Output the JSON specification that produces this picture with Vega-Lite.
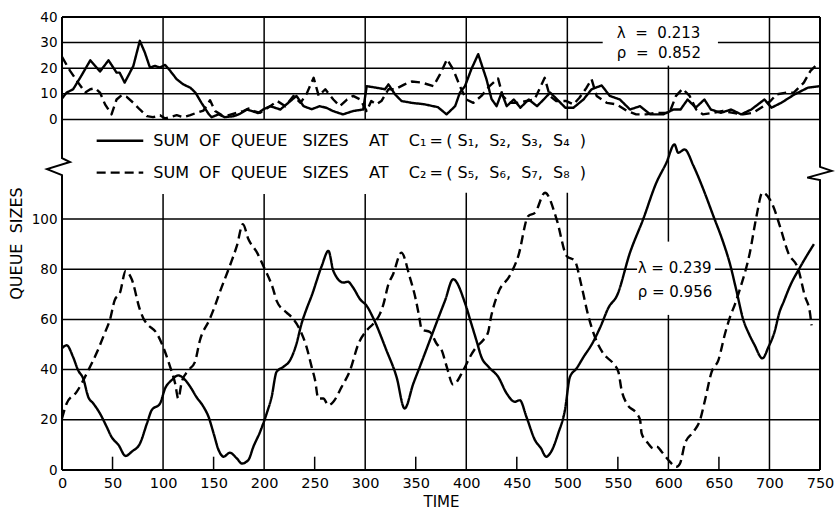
{
  "$schema": "https://vega.github.io/schema/vega-lite/v6.json",
  "width": 758,
  "height": 453,
  "autosize": {"type": "none"},
  "padding": {"left": 62, "top": 17, "right": 17, "bottom": 41},
  "background": "white",
  "config": {"view": {"stroke": null}, "font": "DejaVu Sans"},
  "datasets": {
    "top": [
      {"s":"C1","t":0,"v":8.2},{"s":"C1","t":4.6,"v":10.5},{"s":"C1","t":11,"v":11.8},{"s":"C1","t":18,"v":16.3},{"s":"C1","t":28,"v":23.1},{"s":"C1","t":37.6,"v":18.7},{"s":"C1","t":46,"v":23.1},{"s":"C1","t":54,"v":18.3},{"s":"C1","t":57,"v":18.3},{"s":"C1","t":62,"v":14.4},{"s":"C1","t":70.6,"v":20.9},{"s":"C1","t":77,"v":30.7},{"s":"C1","t":82,"v":26.1},{"s":"C1","t":87,"v":20.3},{"s":"C1","t":92,"v":20.9},{"s":"C1","t":97,"v":20.3},{"s":"C1","t":102,"v":21.3},{"s":"C1","t":107,"v":19},{"s":"C1","t":113.5,"v":15.7},{"s":"C1","t":120,"v":13.7},{"s":"C1","t":127,"v":12.4},{"s":"C1","t":132,"v":10.5},{"s":"C1","t":138,"v":6.5},{"s":"C1","t":145,"v":2.2},{"s":"C1","t":148,"v":0.9},{"s":"C1","t":155,"v":2},{"s":"C1","t":161,"v":0.9},{"s":"C1","t":170,"v":1.3},{"s":"C1","t":176,"v":2.2},{"s":"C1","t":183,"v":3.9},{"s":"C1","t":188,"v":3.3},{"s":"C1","t":194,"v":2.5},{"s":"C1","t":199,"v":3.9},{"s":"C1","t":206,"v":5.2},{"s":"C1","t":216,"v":3.9},{"s":"C1","t":226,"v":7.2},{"s":"C1","t":232,"v":9.2},{"s":"C1","t":239,"v":5.2},{"s":"C1","t":247,"v":4},{"s":"C1","t":255,"v":5.2},{"s":"C1","t":262,"v":4.5},{"s":"C1","t":268,"v":3.3},{"s":"C1","t":278,"v":2},{"s":"C1","t":288,"v":3.3},{"s":"C1","t":298,"v":3.9},{"s":"C1","t":301.5,"v":13},{"s":"C1","t":311,"v":12.4},{"s":"C1","t":319.6,"v":11.8},{"s":"C1","t":323,"v":13.7},{"s":"C1","t":329.5,"v":9.8},{"s":"C1","t":336,"v":7.2},{"s":"C1","t":346,"v":6.5},{"s":"C1","t":359,"v":5.9},{"s":"C1","t":372,"v":4.8},{"s":"C1","t":380.5,"v":2},{"s":"C1","t":389,"v":5.2},{"s":"C1","t":393.7,"v":10.5},{"s":"C1","t":398.7,"v":13},{"s":"C1","t":405,"v":19.6},{"s":"C1","t":411.8,"v":25.5},{"s":"C1","t":420,"v":15.7},{"s":"C1","t":425,"v":8},{"s":"C1","t":430,"v":5.2},{"s":"C1","t":435,"v":10.5},{"s":"C1","t":440,"v":5.2},{"s":"C1","t":447,"v":7.8},{"s":"C1","t":453.5,"v":4.6},{"s":"C1","t":461.8,"v":7.8},{"s":"C1","t":470,"v":5.2},{"s":"C1","t":476.6,"v":7.8},{"s":"C1","t":483,"v":10.5},{"s":"C1","t":490,"v":7.8},{"s":"C1","t":498,"v":4.6},{"s":"C1","t":506,"v":4.6},{"s":"C1","t":516,"v":7.8},{"s":"C1","t":524,"v":11.8},{"s":"C1","t":534,"v":13.3},{"s":"C1","t":542,"v":9.2},{"s":"C1","t":552,"v":7.8},{"s":"C1","t":562,"v":3.9},{"s":"C1","t":572,"v":5.2},{"s":"C1","t":582,"v":2},{"s":"C1","t":595,"v":2},{"s":"C1","t":605,"v":3.9},{"s":"C1","t":612,"v":3.9},{"s":"C1","t":619,"v":7.8},{"s":"C1","t":627,"v":4.6},{"s":"C1","t":635.6,"v":7.8},{"s":"C1","t":642,"v":3.9},{"s":"C1","t":652,"v":2.6},{"s":"C1","t":662,"v":3.9},{"s":"C1","t":672,"v":2},{"s":"C1","t":682,"v":3.9},{"s":"C1","t":695,"v":7.8},{"s":"C1","t":702,"v":4.6},{"s":"C1","t":711.6,"v":6.5},{"s":"C1","t":724.8,"v":9.8},{"s":"C1","t":738,"v":12.4},{"s":"C1","t":749.6,"v":13},
      {"s":"C2","t":0,"v":24.4},{"s":"C2","t":8,"v":19},{"s":"C2","t":16,"v":14.4},{"s":"C2","t":23,"v":10.5},{"s":"C2","t":28,"v":11.8},{"s":"C2","t":33,"v":12.2},{"s":"C2","t":37.6,"v":10.5},{"s":"C2","t":42.6,"v":5.9},{"s":"C2","t":49,"v":2},{"s":"C2","t":54,"v":7.8},{"s":"C2","t":59,"v":9.5},{"s":"C2","t":64,"v":8.8},{"s":"C2","t":70.6,"v":6.5},{"s":"C2","t":77,"v":3.9},{"s":"C2","t":84,"v":1.3},{"s":"C2","t":90,"v":0.9},{"s":"C2","t":97,"v":1.7},{"s":"C2","t":102,"v":0.4},{"s":"C2","t":107,"v":0.9},{"s":"C2","t":113.5,"v":1.7},{"s":"C2","t":120,"v":0.9},{"s":"C2","t":127,"v":1.7},{"s":"C2","t":133,"v":2.6},{"s":"C2","t":140,"v":3.5},{"s":"C2","t":146.5,"v":7.5},{"s":"C2","t":151.5,"v":3.3},{"s":"C2","t":158,"v":1.7},{"s":"C2","t":165,"v":1.7},{"s":"C2","t":173,"v":2.6},{"s":"C2","t":179.5,"v":3.3},{"s":"C2","t":184.5,"v":4.3},{"s":"C2","t":190,"v":3.3},{"s":"C2","t":196,"v":2.6},{"s":"C2","t":206,"v":5.2},{"s":"C2","t":213,"v":7.2},{"s":"C2","t":221,"v":5.2},{"s":"C2","t":229,"v":9.2},{"s":"C2","t":236,"v":6.5},{"s":"C2","t":242,"v":10},{"s":"C2","t":249,"v":16.3},{"s":"C2","t":254,"v":9.2},{"s":"C2","t":260.5,"v":11.8},{"s":"C2","t":268.5,"v":7.8},{"s":"C2","t":275,"v":5.2},{"s":"C2","t":282,"v":7.8},{"s":"C2","t":288,"v":9.2},{"s":"C2","t":295,"v":7.8},{"s":"C2","t":301.5,"v":3.3},{"s":"C2","t":306,"v":7.2},{"s":"C2","t":311,"v":5.9},{"s":"C2","t":316,"v":7.2},{"s":"C2","t":323,"v":11.8},{"s":"C2","t":329.5,"v":11.8},{"s":"C2","t":339,"v":13.7},{"s":"C2","t":346,"v":14.8},{"s":"C2","t":356,"v":14.4},{"s":"C2","t":367.5,"v":13},{"s":"C2","t":374,"v":17.6},{"s":"C2","t":381,"v":23.5},{"s":"C2","t":387,"v":19.6},{"s":"C2","t":393.7,"v":13},{"s":"C2","t":400,"v":7.8},{"s":"C2","t":407,"v":6.5},{"s":"C2","t":415,"v":9.2},{"s":"C2","t":423,"v":13},{"s":"C2","t":431.5,"v":16},{"s":"C2","t":436,"v":9.2},{"s":"C2","t":443,"v":6.5},{"s":"C2","t":450,"v":6.5},{"s":"C2","t":459.5,"v":7.2},{"s":"C2","t":467.6,"v":7.8},{"s":"C2","t":477.6,"v":16.3},{"s":"C2","t":482.6,"v":9.2},{"s":"C2","t":489,"v":7.2},{"s":"C2","t":499,"v":7.2},{"s":"C2","t":506,"v":5.9},{"s":"C2","t":512,"v":8.5},{"s":"C2","t":519,"v":12.4},{"s":"C2","t":524,"v":15.7},{"s":"C2","t":529,"v":9.2},{"s":"C2","t":539,"v":6.5},{"s":"C2","t":549,"v":5.9},{"s":"C2","t":559,"v":3.3},{"s":"C2","t":568,"v":2},{"s":"C2","t":578,"v":2},{"s":"C2","t":588,"v":2.6},{"s":"C2","t":601,"v":2.6},{"s":"C2","t":607.5,"v":9.2},{"s":"C2","t":614,"v":12},{"s":"C2","t":621,"v":9.2},{"s":"C2","t":627.5,"v":3.9},{"s":"C2","t":634,"v":2},{"s":"C2","t":644,"v":2.6},{"s":"C2","t":654,"v":3.3},{"s":"C2","t":664,"v":2.6},{"s":"C2","t":674,"v":2},{"s":"C2","t":684,"v":2.6},{"s":"C2","t":694,"v":5.2},{"s":"C2","t":701,"v":7.2},{"s":"C2","t":707,"v":9.8},{"s":"C2","t":717,"v":10.5},{"s":"C2","t":724,"v":10.5},{"s":"C2","t":734,"v":14.4},{"s":"C2","t":740.6,"v":19},{"s":"C2","t":749,"v":22.2}
    ],
    "bottom": [
      {"s":"C1","t":0,"v":48.5},{"s":"C1","t":4.6,"v":49.7},{"s":"C1","t":11,"v":45},{"s":"C1","t":16,"v":39.7},{"s":"C1","t":21,"v":36.4},{"s":"C1","t":26,"v":29.1},{"s":"C1","t":31,"v":26.5},{"s":"C1","t":37.6,"v":22.5},{"s":"C1","t":44.2,"v":17.2},{"s":"C1","t":49,"v":13.2},{"s":"C1","t":56,"v":9.9},{"s":"C1","t":63,"v":5.6},{"s":"C1","t":69,"v":7.3},{"s":"C1","t":77.2,"v":10.6},{"s":"C1","t":84,"v":18.5},{"s":"C1","t":88.7,"v":23.8},{"s":"C1","t":97,"v":26.5},{"s":"C1","t":102,"v":32.5},{"s":"C1","t":108.5,"v":35.8},{"s":"C1","t":115,"v":37.7},{"s":"C1","t":122,"v":35.8},{"s":"C1","t":127,"v":33.1},{"s":"C1","t":133,"v":29.1},{"s":"C1","t":140,"v":25.2},{"s":"C1","t":145,"v":21.2},{"s":"C1","t":150,"v":14.6},{"s":"C1","t":155,"v":7.9},{"s":"C1","t":160,"v":5.3},{"s":"C1","t":166,"v":6.9},{"s":"C1","t":173,"v":4.6},{"s":"C1","t":178,"v":2.6},{"s":"C1","t":184.4,"v":4},{"s":"C1","t":189.4,"v":9.3},{"s":"C1","t":196,"v":15.2},{"s":"C1","t":202.5,"v":22.5},{"s":"C1","t":207.4,"v":29.1},{"s":"C1","t":212.3,"v":39.1},{"s":"C1","t":219,"v":41.1},{"s":"C1","t":225.6,"v":43.7},{"s":"C1","t":232,"v":50.3},{"s":"C1","t":237,"v":58.3},{"s":"C1","t":242,"v":64.2},{"s":"C1","t":247,"v":69.4},{"s":"C1","t":257,"v":81.3},{"s":"C1","t":263.6,"v":87.3},{"s":"C1","t":268.5,"v":79.3},{"s":"C1","t":278.4,"v":74.7},{"s":"C1","t":283,"v":75},{"s":"C1","t":288,"v":72.7},{"s":"C1","t":295,"v":68},{"s":"C1","t":301.5,"v":65.4},{"s":"C1","t":308,"v":60.5},{"s":"C1","t":321,"v":47.7},{"s":"C1","t":331,"v":37.1},{"s":"C1","t":339,"v":24.5},{"s":"C1","t":347.6,"v":34.4},{"s":"C1","t":354,"v":41.1},{"s":"C1","t":364,"v":51.7},{"s":"C1","t":374,"v":62.3},{"s":"C1","t":379,"v":67.5},{"s":"C1","t":387,"v":76},{"s":"C1","t":399,"v":66.2},{"s":"C1","t":405,"v":58.3},{"s":"C1","t":410,"v":51.7},{"s":"C1","t":415,"v":45},{"s":"C1","t":422,"v":41.1},{"s":"C1","t":431.6,"v":37.1},{"s":"C1","t":440,"v":30.5},{"s":"C1","t":448,"v":27.2},{"s":"C1","t":453,"v":27.8},{"s":"C1","t":459.5,"v":21.2},{"s":"C1","t":468,"v":11.9},{"s":"C1","t":474,"v":8.6},{"s":"C1","t":479,"v":5.3},{"s":"C1","t":484,"v":7.3},{"s":"C1","t":491,"v":14.6},{"s":"C1","t":497.6,"v":23.8},{"s":"C1","t":502.6,"v":37.1},{"s":"C1","t":509,"v":40.4},{"s":"C1","t":516,"v":45},{"s":"C1","t":524.5,"v":50.3},{"s":"C1","t":532.7,"v":57},{"s":"C1","t":541,"v":64.9},{"s":"C1","t":549,"v":69.4},{"s":"C1","t":562,"v":86.6},{"s":"C1","t":575,"v":99.9},{"s":"C1","t":588,"v":114.4},{"s":"C1","t":598,"v":122.4},{"s":"C1","t":606,"v":129.7},{"s":"C1","t":609.7,"v":126.4},{"s":"C1","t":616,"v":127.7},{"s":"C1","t":625,"v":121},{"s":"C1","t":634.6,"v":111.8},{"s":"C1","t":644.5,"v":101.2},{"s":"C1","t":654,"v":91},{"s":"C1","t":661,"v":82},{"s":"C1","t":667,"v":72},{"s":"C1","t":674,"v":60},{"s":"C1","t":680,"v":54},{"s":"C1","t":685,"v":50},{"s":"C1","t":693,"v":44.5},{"s":"C1","t":699,"v":49},{"s":"C1","t":705,"v":55},{"s":"C1","t":710,"v":63},{"s":"C1","t":714,"v":67},{"s":"C1","t":720,"v":73},{"s":"C1","t":731,"v":81.3},{"s":"C1","t":744,"v":90},
      {"s":"C2","t":0,"v":20.5},{"s":"C2","t":4.6,"v":26.5},{"s":"C2","t":14.5,"v":31.1},{"s":"C2","t":26,"v":39.7},{"s":"C2","t":34,"v":46.4},{"s":"C2","t":42,"v":54.3},{"s":"C2","t":47.5,"v":60},{"s":"C2","t":52,"v":67.5},{"s":"C2","t":57.4,"v":70.7},{"s":"C2","t":63,"v":79.3},{"s":"C2","t":69,"v":76},{"s":"C2","t":77,"v":64},{"s":"C2","t":81,"v":60},{"s":"C2","t":84,"v":58.3},{"s":"C2","t":94,"v":54.3},{"s":"C2","t":102,"v":47},{"s":"C2","t":107,"v":41.1},{"s":"C2","t":112,"v":34.4},{"s":"C2","t":115,"v":28.5},{"s":"C2","t":118.5,"v":35.1},{"s":"C2","t":125,"v":39.7},{"s":"C2","t":131.5,"v":43},{"s":"C2","t":136.5,"v":51.7},{"s":"C2","t":146,"v":60},{"s":"C2","t":151,"v":65},{"s":"C2","t":156,"v":70.7},{"s":"C2","t":166,"v":81.3},{"s":"C2","t":173,"v":89.3},{"s":"C2","t":179,"v":97.9},{"s":"C2","t":184.5,"v":91.9},{"s":"C2","t":193,"v":86.6},{"s":"C2","t":199.2,"v":81.3},{"s":"C2","t":209,"v":72},{"s":"C2","t":212.4,"v":67.4},{"s":"C2","t":222,"v":62.8},{"s":"C2","t":227,"v":61},{"s":"C2","t":235.7,"v":55.6},{"s":"C2","t":242,"v":49},{"s":"C2","t":247,"v":41.1},{"s":"C2","t":250.4,"v":35.8},{"s":"C2","t":253.6,"v":28.5},{"s":"C2","t":258.6,"v":28.5},{"s":"C2","t":263.6,"v":25.8},{"s":"C2","t":268.5,"v":27.2},{"s":"C2","t":276.7,"v":33.1},{"s":"C2","t":285,"v":39.7},{"s":"C2","t":293.3,"v":50.3},{"s":"C2","t":301.5,"v":55.6},{"s":"C2","t":308,"v":58.3},{"s":"C2","t":314.7,"v":62.3},{"s":"C2","t":318,"v":66},{"s":"C2","t":323,"v":74},{"s":"C2","t":327.6,"v":78},{"s":"C2","t":335.8,"v":86.6},{"s":"C2","t":344,"v":77},{"s":"C2","t":350,"v":68},{"s":"C2","t":353,"v":62},{"s":"C2","t":356,"v":56},{"s":"C2","t":364,"v":55},{"s":"C2","t":370.7,"v":50.3},{"s":"C2","t":375.7,"v":47.7},{"s":"C2","t":380.7,"v":41.1},{"s":"C2","t":387,"v":34},{"s":"C2","t":397,"v":39.7},{"s":"C2","t":403.6,"v":45},{"s":"C2","t":410,"v":49},{"s":"C2","t":416.7,"v":51.7},{"s":"C2","t":421.7,"v":55},{"s":"C2","t":424,"v":60},{"s":"C2","t":431.7,"v":70.7},{"s":"C2","t":443,"v":77.4},{"s":"C2","t":451.5,"v":85.3},{"s":"C2","t":461.3,"v":101.2},{"s":"C2","t":468,"v":102.5},{"s":"C2","t":477.9,"v":110.5},{"s":"C2","t":489.4,"v":99.9},{"s":"C2","t":499.3,"v":85.3},{"s":"C2","t":507.4,"v":83.3},{"s":"C2","t":514,"v":73.4},{"s":"C2","t":520.7,"v":61.5},{"s":"C2","t":527.3,"v":53},{"s":"C2","t":535.6,"v":46.4},{"s":"C2","t":545.5,"v":42.4},{"s":"C2","t":550.5,"v":39.1},{"s":"C2","t":553.7,"v":31.8},{"s":"C2","t":558.7,"v":26.5},{"s":"C2","t":568.6,"v":22.5},{"s":"C2","t":572,"v":19.9},{"s":"C2","t":573.5,"v":14.6},{"s":"C2","t":580,"v":10.6},{"s":"C2","t":585,"v":8.6},{"s":"C2","t":588.4,"v":9.3},{"s":"C2","t":593.3,"v":7.3},{"s":"C2","t":599.9,"v":4},{"s":"C2","t":608,"v":1.3},{"s":"C2","t":611.5,"v":2.6},{"s":"C2","t":616.4,"v":10.6},{"s":"C2","t":624.7,"v":15.2},{"s":"C2","t":631.3,"v":19.9},{"s":"C2","t":636.2,"v":27.8},{"s":"C2","t":642.8,"v":39.1},{"s":"C2","t":649.4,"v":43.7},{"s":"C2","t":656,"v":54.3},{"s":"C2","t":661,"v":61},{"s":"C2","t":666,"v":66.2},{"s":"C2","t":670.7,"v":72},{"s":"C2","t":680.6,"v":86.6},{"s":"C2","t":687.2,"v":101.2},{"s":"C2","t":693,"v":110.5},{"s":"C2","t":703.6,"v":105.2},{"s":"C2","t":710.3,"v":97.2},{"s":"C2","t":718.5,"v":86.6},{"s":"C2","t":728.5,"v":80},{"s":"C2","t":735,"v":69.4},{"s":"C2","t":740,"v":62.8},{"s":"C2","t":741.6,"v":57.6}
    ],
    "topGridH": [
      {"v":0,"t1":0,"t2":750},{"v":10,"t1":0,"t2":750},{"v":20,"t1":0,"t2":750},{"v":30,"t1":0,"t2":535},{"v":30,"t1":649,"t2":750}
    ],
    "topGridV": [
      {"t":100,"v1":0,"v2":40},{"t":200,"v1":0,"v2":40},{"t":300,"v1":0,"v2":40},{"t":400,"v1":0,"v2":40},{"t":500,"v1":0,"v2":40},{"t":600,"v1":0,"v2":21},{"t":700,"v1":0,"v2":40}
    ],
    "botGridH": [
      {"v":20,"t1":0,"t2":750},{"v":40,"t1":0,"t2":750},{"v":60,"t1":0,"t2":750},{"v":80,"t1":0,"t2":569},{"v":80,"t1":646,"t2":750},{"v":100,"t1":0,"t2":750}
    ],
    "botGridV": [
      {"t":100,"v1":0,"v2":110},{"t":200,"v1":0,"v2":110},{"t":300,"v1":0,"v2":110},{"t":400,"v1":0,"v2":110.5},{"t":500,"v1":0,"v2":110.5},{"t":600,"v1":0,"v2":61.8},{"t":600,"v1":91,"v2":139.4},{"t":700,"v1":0,"v2":139.4},
      {"t":50,"v1":0,"v2":5.3},{"t":150,"v1":0,"v2":5.3},{"t":250,"v1":0,"v2":5.3},{"t":350,"v1":0,"v2":5.3},{"t":450,"v1":0,"v2":5.3},{"t":550,"v1":0,"v2":5.3},{"t":650,"v1":0,"v2":5.3}
    ],
    "frame": [
      {"side":"left","k":0,"t":0,"v":180.5},{"side":"left","k":1,"t":0,"v":124.3},{"side":"left","k":2,"t":7.9,"v":122.7},{"side":"left","k":3,"t":-14.8,"v":119.9},{"side":"left","k":4,"t":0,"v":117.5},{"side":"left","k":5,"t":0,"v":0},
      {"side":"right","k":0,"t":750,"v":180.5},{"side":"right","k":1,"t":750,"v":120.8},{"side":"right","k":2,"t":761.5,"v":119.2},{"side":"right","k":3,"t":737.4,"v":116.5},{"side":"right","k":4,"t":750,"v":115.5},{"side":"right","k":5,"t":750,"v":0},
      {"side":"top","k":0,"t":0,"v":180.5},{"side":"top","k":1,"t":750,"v":180.5},
      {"side":"bottom","k":0,"t":0,"v":0},{"side":"bottom","k":1,"t":750,"v":0}
    ],
    "topNotes": [
      {"t":549,"v":33.9,"label":"λ\u00a0\u00a0=\u00a0\u00a00.213"},
      {"t":549,"v":25.8,"label":"ρ\u00a0\u00a0=\u00a0\u00a00.852"}
    ],
    "botNotes": [
      {"t":569.6,"v":80.4,"label":"λ = 0.239"},
      {"t":569.6,"v":71,"label":"ρ = 0.956"}
    ],
    "keyLines": [
      {"s":"C1","t":34.3,"v":131.2},{"s":"C1","t":80.4,"v":131.2},
      {"s":"C2","t":34.3,"v":118.5},{"s":"C2","t":80.4,"v":118.5}
    ],
    "keyText": [
      {"t":90.3,"v":131.2,"label":"SUM\u00a0\u00a0OF\u00a0\u00a0QUEUE\u00a0\u00a0\u00a0SIZES\u00a0\u00a0\u00a0\u00a0AT\u00a0\u00a0\u00a0\u00a0C₁\u2009=\u2009(\u00a0S₁,\u00a0\u00a0S₂,\u00a0\u00a0S₃,\u00a0\u00a0S₄\u00a0\u00a0)"},
      {"t":90.3,"v":118.5,"label":"SUM\u00a0\u00a0OF\u00a0\u00a0QUEUE\u00a0\u00a0\u00a0SIZES\u00a0\u00a0\u00a0\u00a0AT\u00a0\u00a0\u00a0\u00a0C₂\u2009=\u2009(\u00a0S₅,\u00a0\u00a0S₆,\u00a0\u00a0S₇,\u00a0\u00a0S₈\u00a0\u00a0)"}
    ]
  },
  "resolve": {"scale": {"y": "independent"}},
  "layer": [
    {
      "data": {"name": "topGridH"},
      "mark": {"type": "rule", "color": "black", "strokeWidth": 1.5},
      "encoding": {
        "y": {"field": "v", "type": "quantitative", "scale": {"domain": [-136.8, 40], "nice": false, "zero": false}, "axis": null},
        "x": {
          "field": "t1", "type": "quantitative",
          "scale": {"domain": [0, 750], "nice": false, "zero": false},
          "axis": {"values": [0, 50, 100, 150, 200, 250, 300, 350, 400, 450, 500, 550, 600, 650, 700, 750], "labels": true, "ticks": false, "domain": false, "grid": false, "labelFlush": false, "labelOverlap": false, "labelFontSize": 14.5, "labelColor": "black", "labelPadding": 6, "title": "TIME", "titleFontSize": 15, "titleFontWeight": "normal", "titleColor": "black", "titlePadding": 5}
        },
        "x2": {"field": "t2"}
      }
    },
    {
      "data": {"name": "topGridV"},
      "mark": {"type": "rule", "color": "black", "strokeWidth": 1.5},
      "encoding": {
        "x": {"field": "t", "type": "quantitative"},
        "y": {"field": "v1", "type": "quantitative", "scale": {"domain": [-136.8, 40], "nice": false, "zero": false}, "axis": null},
        "y2": {"field": "v2"}
      }
    },
    {
      "data": {"name": "top"},
      "mark": {"type": "line", "color": "black", "strokeWidth": 2.4, "strokeJoin": "round"},
      "encoding": {
        "x": {"field": "t", "type": "quantitative"},
        "y": {
          "field": "v", "type": "quantitative",
          "scale": {"domain": [-136.8, 40], "nice": false, "zero": false},
          "axis": {"orient": "left", "values": [0, 10, 20, 30, 40], "title": null, "labels": true, "ticks": false, "domain": false, "grid": false, "labelFontSize": 13.5, "labelColor": "black", "labelPadding": 5}
        },
        "strokeDash": {"field": "s", "type": "nominal", "scale": {"domain": ["C1", "C2"], "range": [[1, 0], [9, 5]]}, "legend": null}
      }
    },
    {
      "data": {"name": "topNotes"},
      "mark": {"type": "text", "align": "left", "baseline": "middle", "fontSize": 15, "color": "black"},
      "encoding": {
        "x": {"field": "t", "type": "quantitative"},
        "y": {"field": "v", "type": "quantitative", "scale": {"domain": [-136.8, 40], "nice": false, "zero": false}, "axis": null},
        "text": {"field": "label"}
      }
    },
    {
      "data": {"name": "botGridH"},
      "mark": {"type": "rule", "color": "black", "strokeWidth": 1.5},
      "encoding": {
        "y": {"field": "v", "type": "quantitative", "scale": {"domain": [0, 180.5], "nice": false, "zero": false}, "axis": null},
        "x": {"field": "t1", "type": "quantitative"},
        "x2": {"field": "t2"}
      }
    },
    {
      "data": {"name": "botGridV"},
      "mark": {"type": "rule", "color": "black", "strokeWidth": 1.5},
      "encoding": {
        "x": {"field": "t", "type": "quantitative"},
        "y": {"field": "v1", "type": "quantitative", "scale": {"domain": [0, 180.5], "nice": false, "zero": false}, "axis": null},
        "y2": {"field": "v2"}
      }
    },
    {
      "data": {"name": "frame"},
      "mark": {"type": "line", "color": "black", "strokeWidth": 2, "strokeJoin": "miter"},
      "encoding": {
        "x": {"field": "t", "type": "quantitative"},
        "y": {"field": "v", "type": "quantitative", "scale": {"domain": [0, 180.5], "nice": false, "zero": false}, "axis": null},
        "detail": {"field": "side", "type": "nominal"},
        "order": {"field": "k", "type": "quantitative"}
      }
    },
    {
      "data": {"name": "bottom"},
      "mark": {"type": "line", "color": "black", "strokeWidth": 2.4, "strokeJoin": "round", "interpolate": "monotone"},
      "encoding": {
        "x": {"field": "t", "type": "quantitative"},
        "y": {
          "field": "v", "type": "quantitative",
          "scale": {"domain": [0, 180.5], "nice": false, "zero": false},
          "axis": {"orient": "left", "values": [0, 20, 40, 60, 80, 100], "labels": true, "ticks": false, "domain": false, "grid": false, "labelFontSize": 13.5, "labelColor": "black", "labelPadding": 5, "title": "QUEUE\u00a0\u00a0SIZES", "titleFontSize": 16, "titleFontWeight": "normal", "titleColor": "black", "titleAngle": -90, "titleAlign": "center", "titleBaseline": "middle", "titleX": -46, "titleY": 226}
        },
        "strokeDash": {"field": "s", "type": "nominal", "legend": null}
      }
    },
    {
      "data": {"name": "keyLines"},
      "mark": {"type": "line", "color": "black", "strokeWidth": 2.4},
      "encoding": {
        "x": {"field": "t", "type": "quantitative"},
        "y": {"field": "v", "type": "quantitative", "scale": {"domain": [0, 180.5], "nice": false, "zero": false}, "axis": null},
        "strokeDash": {"field": "s", "type": "nominal", "legend": null}
      }
    },
    {
      "data": {"name": "keyText"},
      "mark": {"type": "text", "align": "left", "baseline": "middle", "fontSize": 16, "color": "black"},
      "encoding": {
        "x": {"field": "t", "type": "quantitative"},
        "y": {"field": "v", "type": "quantitative", "scale": {"domain": [0, 180.5], "nice": false, "zero": false}, "axis": null},
        "text": {"field": "label"}
      }
    },
    {
      "data": {"name": "botNotes"},
      "mark": {"type": "text", "align": "left", "baseline": "middle", "fontSize": 15, "color": "black"},
      "encoding": {
        "x": {"field": "t", "type": "quantitative"},
        "y": {"field": "v", "type": "quantitative", "scale": {"domain": [0, 180.5], "nice": false, "zero": false}, "axis": null},
        "text": {"field": "label"}
      }
    }
  ]
}
